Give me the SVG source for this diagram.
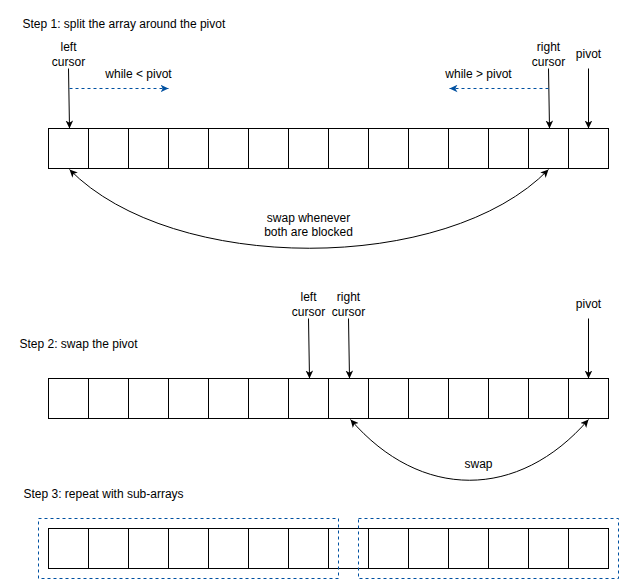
<svg xmlns="http://www.w3.org/2000/svg" width="627" height="587" viewBox="0 0 627 587">
<style>
text{font-family:"Liberation Sans",Arial,Helvetica,sans-serif;font-size:12px;fill:#000}
.c{text-anchor:middle}
.cell{fill:#fff;stroke:#000;stroke-width:1}
.ln{fill:none;stroke:#000;stroke-width:1}
.bl{fill:none;stroke:#0050a0;stroke-width:1;stroke-dasharray:3 3}
</style>
<defs>
<marker id="ak" markerUnits="userSpaceOnUse" viewBox="-8 -4 9 8" markerWidth="9" markerHeight="8" refX="0" refY="0" orient="auto-start-reverse">
<path d="M0,0 L-8,-3.8 L-5.8,0 L-8,3.8 Z" fill="#000"/>
</marker>
<marker id="ab" markerUnits="userSpaceOnUse" viewBox="-8 -4 9 8" markerWidth="9" markerHeight="8" refX="0" refY="0" orient="auto-start-reverse">
<path d="M0,0 L-8,-3.8 L-5.8,0 L-8,3.8 Z" fill="#0050a0"/>
</marker>
</defs>
<rect x="0" y="0" width="627" height="587" fill="#fff"/>
<g transform="translate(0.5,0.5)">
<g id="step1-title"><text x="22" y="27">Step 1: split the array around the pivot</text></g>
<g id="step2-title"><text x="19" y="347">Step 2: swap the pivot</text></g>
<g id="step3-title"><text x="23" y="497">Step 3: repeat with sub-arrays</text></g>

<g id="lbl-left1"><text class="c" x="68" y="50">left</text><text class="c" x="68" y="65">cursor</text></g>
<g id="lbl-right1"><text class="c" x="548" y="50">right</text><text class="c" x="548" y="65">cursor</text></g>
<g id="lbl-pivot1"><text class="c" x="588" y="57">pivot</text></g>
<g id="lbl-while-lt"><text class="c" x="138" y="77">while &lt; pivot</text></g>
<g id="lbl-while-gt"><text class="c" x="478" y="77">while &gt; pivot</text></g>

<g id="lbl-left2"><text class="c" x="308" y="300">left</text><text class="c" x="308" y="315">cursor</text></g>
<g id="lbl-right2"><text class="c" x="348" y="300">right</text><text class="c" x="348" y="315">cursor</text></g>
<g id="lbl-pivot2"><text class="c" x="588" y="307">pivot</text></g>

<g id="array1">
<rect id="a1c0" class="cell" x="48" y="128" width="40" height="40"/>
<rect id="a1c1" class="cell" x="88" y="128" width="40" height="40"/>
<rect id="a1c2" class="cell" x="128" y="128" width="40" height="40"/>
<rect id="a1c3" class="cell" x="168" y="128" width="40" height="40"/>
<rect id="a1c4" class="cell" x="208" y="128" width="40" height="40"/>
<rect id="a1c5" class="cell" x="248" y="128" width="40" height="40"/>
<rect id="a1c6" class="cell" x="288" y="128" width="40" height="40"/>
<rect id="a1c7" class="cell" x="328" y="128" width="40" height="40"/>
<rect id="a1c8" class="cell" x="368" y="128" width="40" height="40"/>
<rect id="a1c9" class="cell" x="408" y="128" width="40" height="40"/>
<rect id="a1c10" class="cell" x="448" y="128" width="40" height="40"/>
<rect id="a1c11" class="cell" x="488" y="128" width="40" height="40"/>
<rect id="a1c12" class="cell" x="528" y="128" width="40" height="40"/>
<rect id="a1c13" class="cell" x="568" y="128" width="40" height="40"/>
</g>
<g id="array2">
<rect id="a2c0" class="cell" x="48" y="378" width="40" height="40"/>
<rect id="a2c1" class="cell" x="88" y="378" width="40" height="40"/>
<rect id="a2c2" class="cell" x="128" y="378" width="40" height="40"/>
<rect id="a2c3" class="cell" x="168" y="378" width="40" height="40"/>
<rect id="a2c4" class="cell" x="208" y="378" width="40" height="40"/>
<rect id="a2c5" class="cell" x="248" y="378" width="40" height="40"/>
<rect id="a2c6" class="cell" x="288" y="378" width="40" height="40"/>
<rect id="a2c7" class="cell" x="328" y="378" width="40" height="40"/>
<rect id="a2c8" class="cell" x="368" y="378" width="40" height="40"/>
<rect id="a2c9" class="cell" x="408" y="378" width="40" height="40"/>
<rect id="a2c10" class="cell" x="448" y="378" width="40" height="40"/>
<rect id="a2c11" class="cell" x="488" y="378" width="40" height="40"/>
<rect id="a2c12" class="cell" x="528" y="378" width="40" height="40"/>
<rect id="a2c13" class="cell" x="568" y="378" width="40" height="40"/>
</g>
<g id="array3">
<rect id="a3c0" class="cell" x="48" y="528" width="40" height="40"/>
<rect id="a3c1" class="cell" x="88" y="528" width="40" height="40"/>
<rect id="a3c2" class="cell" x="128" y="528" width="40" height="40"/>
<rect id="a3c3" class="cell" x="168" y="528" width="40" height="40"/>
<rect id="a3c4" class="cell" x="208" y="528" width="40" height="40"/>
<rect id="a3c5" class="cell" x="248" y="528" width="40" height="40"/>
<rect id="a3c6" class="cell" x="288" y="528" width="40" height="40"/>
<rect id="a3c7" class="cell" x="328" y="528" width="40" height="40"/>
<rect id="a3c8" class="cell" x="368" y="528" width="40" height="40"/>
<rect id="a3c9" class="cell" x="408" y="528" width="40" height="40"/>
<rect id="a3c10" class="cell" x="448" y="528" width="40" height="40"/>
<rect id="a3c11" class="cell" x="488" y="528" width="40" height="40"/>
<rect id="a3c12" class="cell" x="528" y="528" width="40" height="40"/>
<rect id="a3c13" class="cell" x="568" y="528" width="40" height="40"/>
</g>
<g id="sub-left"><rect class="bl" x="38" y="518" width="300" height="60"/></g>
<g id="sub-right"><rect class="bl" x="358" y="518" width="260" height="60"/></g>

<g id="connectors">
<path class="ln" d="M68,68 L69,128" marker-end="url(#ak)"/>
<path class="ln" d="M548,68 L549,128" marker-end="url(#ak)"/>
<path class="ln" d="M588,68 L588,128" marker-end="url(#ak)"/>
<path class="bl" d="M69,88 L168,88" marker-end="url(#ab)"/>
<path class="bl" d="M548,88 L449,88" marker-end="url(#ab)"/>
<path class="ln" d="M69,169 C172,274 446,274 548,169" marker-start="url(#ak)" marker-end="url(#ak)"/>
<g id="lbl-swap1"><text class="c" x="308" y="221">swap whenever</text><text class="c" x="308" y="235">both are blocked</text></g>
<path class="ln" d="M308,318 L309,378" marker-end="url(#ak)"/>
<path class="ln" d="M348,318 L349,378" marker-end="url(#ak)"/>
<path class="ln" d="M588,318 L588,378" marker-end="url(#ak)"/>
<path class="ln" d="M350,419 C420,500 518,500 588,419" marker-start="url(#ak)" marker-end="url(#ak)"/>
<g id="lbl-swap2"><text class="c" x="478" y="467">swap</text></g>
</g>
</g>
</svg>
